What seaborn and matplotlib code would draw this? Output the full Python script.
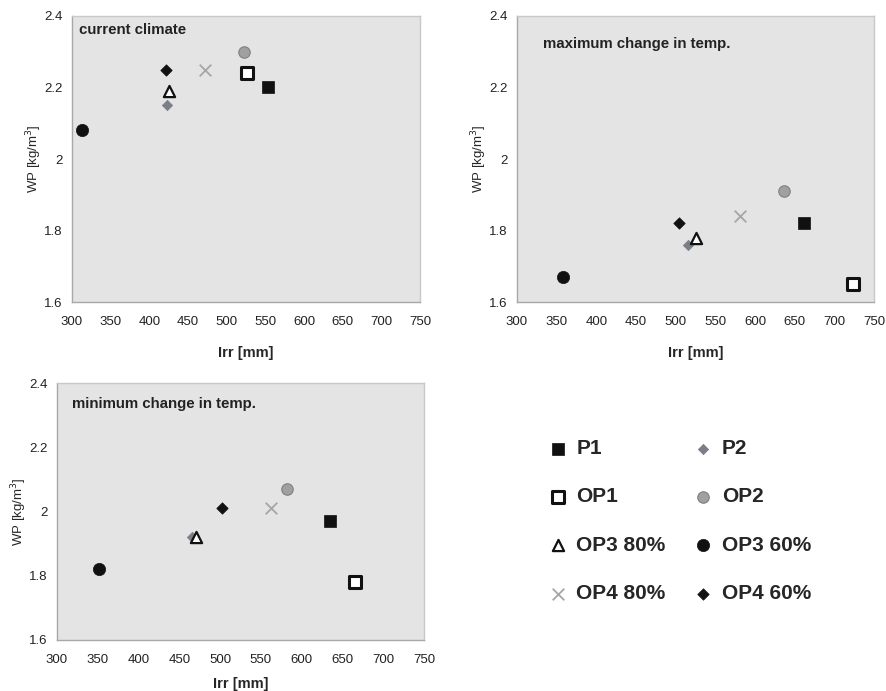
import pandas as pd
import seaborn as sns
import matplotlib.pyplot as plt

# values
panels = ['current climate', 'maximum change in temp.', 'minimum change in temp.']
series = ['P1', 'P2', 'OP1', 'OP2', 'OP3 80%', 'OP3 60%', 'OP4 80%', 'OP4 60%']

irr_current = [553, 423, 526, 522, 425, 313, 472, 422]
wp_current = [2.20, 2.15, 2.24, 2.30, 2.19, 2.08, 2.25, 2.25]

irr_max = [662, 515, 723, 636, 526, 358, 581, 504]
wp_max = [1.82, 1.76, 1.65, 1.91, 1.78, 1.67, 1.84, 1.82]

irr_min = [635, 465, 666, 582, 470, 352, 563, 502]
wp_min = [1.97, 1.92, 1.78, 2.07, 1.92, 1.82, 2.01, 2.01]

x_ticks = [300, 350, 400, 450, 500, 550, 600, 650, 700, 750]
y_ticks = [1.6, 1.8, 2.0, 2.2, 2.4]
y_ticklabels = ['1.6', '1.8', '2', '2.2', '2.4']

rows = []
for name, xs, ys in [(panels[0], irr_current, wp_current),
                     (panels[1], irr_max, wp_max),
                     (panels[2], irr_min, wp_min)]:
    for s, x, y in zip(series, xs, ys):
        rows.append({'panel': name, 'series': s, 'Irr': x, 'WP': y})
df = pd.DataFrame(rows)

# marker style per series
styles = {
    'P1':      dict(marker='s', color='#111111', edgecolor='#111111', s=70, linewidth=0.5),
    'P2':      dict(marker='D', color='#7a7f87', edgecolor='#7a7f87', s=28, linewidth=0.5),
    'OP1':     dict(marker='s', color='white', edgecolor='#111111', s=72, linewidth=2.2),
    'OP2':     dict(marker='o', color='#a0a0a0', edgecolor='#808080', s=68, linewidth=0.8),
    'OP3 80%': dict(marker='^', color='white', edgecolor='#111111', s=65, linewidth=1.6),
    'OP3 60%': dict(marker='o', color='#111111', edgecolor='#111111', s=78, linewidth=0.5),
    'OP4 80%': dict(marker='x', color='#a6a6a6', s=70, linewidth=1.3),
    'OP4 60%': dict(marker='D', color='#111111', edgecolor='#111111', s=34, linewidth=0.5),
}

sns.set_style('white')
plt.rcParams['font.family'] = ['Liberation Sans', 'DejaVu Sans']

fig = plt.figure(figsize=(8.87, 6.91), dpi=100)
ax1 = fig.add_axes([72/887, 1-302/691, 348/887, 286/691])
ax2 = fig.add_axes([517/887, 1-302/691, 357/887, 286/691])
ax3 = fig.add_axes([57/887, 1-640/691, 367/887, 257/691])

title_pos = {panels[0]: (0.02, 0.975), panels[1]: (0.072, 0.925), panels[2]: (0.04, 0.945)}
xlabel_pad = {panels[0]: 13, panels[1]: 13, panels[2]: 8}

for ax, name in zip([ax1, ax2, ax3], panels):
    sub = df[df['panel'] == name]
    for s in series:
        pt = sub[sub['series'] == s]
        sns.scatterplot(data=pt, x='Irr', y='WP', ax=ax, label=s, zorder=3, **styles[s])
    ax.set_facecolor('#e4e4e4')
    ax.set_xlim(300, 750)
    ax.set_ylim(1.6, 2.4)
    ax.set_xticks(x_ticks)
    ax.set_yticks(y_ticks)
    ax.set_yticklabels(y_ticklabels)
    for sp in ax.spines.values():
        sp.set_color('#c8c8c8')
        sp.set_linewidth(1)
    ax.spines['left'].set_color('#a8a8a8')
    ax.spines['bottom'].set_color('#a8a8a8')
    ax.tick_params(axis='both', direction='out', length=4, width=0.8, color='#a0a0a0',
                   labelsize=9.5, labelcolor='#222222', pad=3)
    ax.tick_params(axis='x', pad=6)
    ax.set_xlabel('Irr [mm]', fontsize=10.5, fontweight='bold', labelpad=xlabel_pad[name])
    ax.set_ylabel('WP [kg/m$^3$]', fontsize=9.5, labelpad=0)
    ax.get_legend().remove()
    tx, ty = title_pos[name]
    ax.text(tx, ty, name, transform=ax.transAxes, fontsize=10.8, fontweight='bold',
            color='#222222', va='top', ha='left')

handles, labels = ax1.get_legend_handles_labels()
order = [0, 2, 4, 6, 1, 3, 5, 7]
leg = fig.legend([handles[i] for i in order], [labels[i] for i in order],
                 loc='upper left', bbox_to_anchor=(539/887, 1-439/691), ncol=2,
                 frameon=False, borderpad=0, borderaxespad=0,
                 handlelength=1.8, handletextpad=0.0, columnspacing=0.9,
                 labelspacing=1.41, prop={'size': 15, 'weight': 'bold'})

fig.savefig('out.png', dpi=100)
